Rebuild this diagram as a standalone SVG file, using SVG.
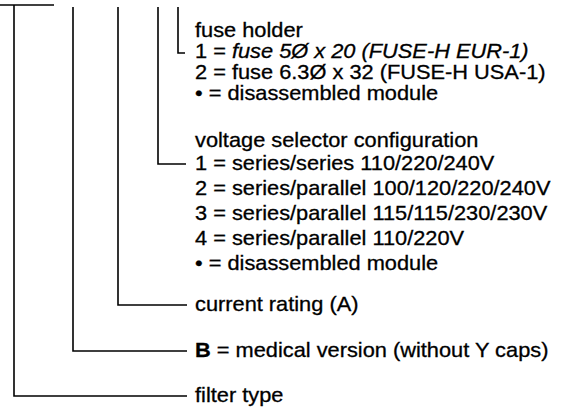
<svg xmlns="http://www.w3.org/2000/svg" width="564" height="408" viewBox="0 0 564 408">
<style>
.ln{stroke:#000;stroke-width:1.6;fill:none}
.t{font-family:"Liberation Sans",Arial,Helvetica,sans-serif;font-size:20px;fill:#000;stroke:#000;stroke-width:0.3}
.it{font-style:italic}
.b{font-weight:bold}
</style>
<rect width="564" height="408" fill="#fff"/>
<g id="connectors">
<path class="ln" d="M0,5 H54"/>
<path class="ln" d="M14,5 V396 H187"/>
<path class="ln" d="M73,7 V351 H187"/>
<path class="ln" d="M118,7 V305 H187"/>
<path class="ln" d="M158,7 V164 H186"/>
<path class="ln" d="M178,7 V53 H185"/>
</g>
<g id="fuse-holder" transform="translate(195,0) scale(1.09,1)">
<text class="t" x="0" y="37">fuse holder</text>
<text class="t" x="0" y="58">1 = <tspan class="it">fuse 5Ø x 20 (FUSE-H EUR-1)</tspan></text>
<text class="t" x="0" y="79">2 = fuse 6.3Ø x 32 (FUSE-H USA-1)</text>
<text class="t" x="0" y="100">• = disassembled module</text>
</g>
<g id="voltage-selector" transform="translate(195,0) scale(1.09,1)">
<text class="t" x="0" y="147">voltage selector configuration</text>
<text class="t" x="0" y="170">1 = series/series 110/220/240V</text>
<text class="t" x="0" y="195">2 = series/parallel 100/120/220/240V</text>
<text class="t" x="0" y="220">3 = series/parallel 115/115/230/230V</text>
<text class="t" x="0" y="245">4 = series/parallel 110/220V</text>
<text class="t" x="0" y="270">• = disassembled module</text>
</g>
<g id="current-rating" transform="translate(195,0) scale(1.09,1)">
<text class="t" x="0" y="311">current rating (A)</text>
</g>
<g id="medical-version" transform="translate(195,0) scale(1.09,1)">
<text class="t" x="0" y="357"><tspan class="b">B</tspan> = medical version (without Y caps)</text>
</g>
<g id="filter-type" transform="translate(195,0) scale(1.09,1)">
<text class="t" x="0" y="402">filter type</text>
</g>
</svg>
